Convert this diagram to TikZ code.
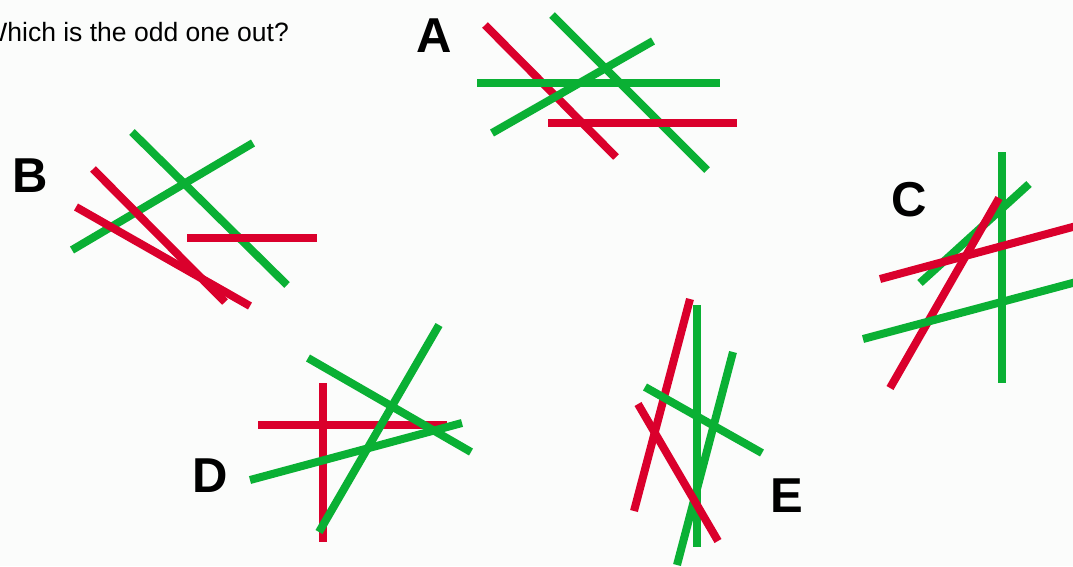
\documentclass[tikz,border=0pt]{standalone}
\usepackage{fontspec}
\setmainfont{Liberation Sans}
\definecolor{pred}{RGB}{218,0,44}
\definecolor{pgreen}{RGB}{10,176,52}
\definecolor{bgc}{RGB}{251,252,251}
\tikzset{
  redbar/.style={draw=pred,line width=8pt,line cap=butt},
  greenbar/.style={draw=pgreen,line width=8pt,line cap=butt},
  letter/.style={inner sep=0pt,font=\fontsize{49}{49}\selectfont\bfseries},
}
\begin{document}
\begin{tikzpicture}[x=1pt,y=-1pt]
\clip (0,0) rectangle (1073,566);
\fill[bgc] (0,0) rectangle (1073,566);
\node[anchor=base east,inner sep=0pt,font=\fontsize{26.5}{26.5}\selectfont] (title) at (289,41) {Which is the odd one out?};
% A
\node[letter] (la) at (434,36) {A};
\draw[redbar] (485,25) -- (616,157);
\draw[greenbar] (552,15) -- (707,170);
\draw[greenbar] (492,133) -- (653,41);
\draw[greenbar] (477,83) -- (720,83);
\draw[redbar] (548,123) -- (737,123);
% B
\node[letter] (lb) at (30,176) {B};
\draw[greenbar] (132,132) -- (287,285);
\draw[greenbar] (72,250) -- (253,143);
\draw[redbar] (93,169) -- (225,302);
\draw[redbar] (76,207) -- (250,306);
\draw[redbar] (187,238) -- (317,238);
% C
\node[letter] (lc) at (909,200) {C};
\draw[greenbar] (1002,152) -- (1002,383);
\draw[greenbar] (920,283) -- (1029,184);
\draw[redbar] (890,388) -- (999,198);
\draw[redbar] (880,279) -- (1080,225);
\draw[greenbar] (863,339) -- (1080,281);
% D
\node[letter] (ld) at (210,476) {D};
\draw[redbar] (323,383) -- (323,542);
\draw[redbar] (258,425) -- (447,425);
\draw[greenbar] (319,532) -- (439,325);
\draw[greenbar] (308,358) -- (471,452);
\draw[greenbar] (250,480) -- (462,423);
% E
\node[letter] (le) at (787,496) {E};
\draw[redbar] (690,299) -- (634,511);
\draw[greenbar] (697,305) -- (697,547);
\draw[greenbar] (733,352) -- (677,565);
\draw[greenbar] (645,387) -- (762,453);
\draw[redbar] (638,404) -- (718,541);
\end{tikzpicture}
\end{document}
